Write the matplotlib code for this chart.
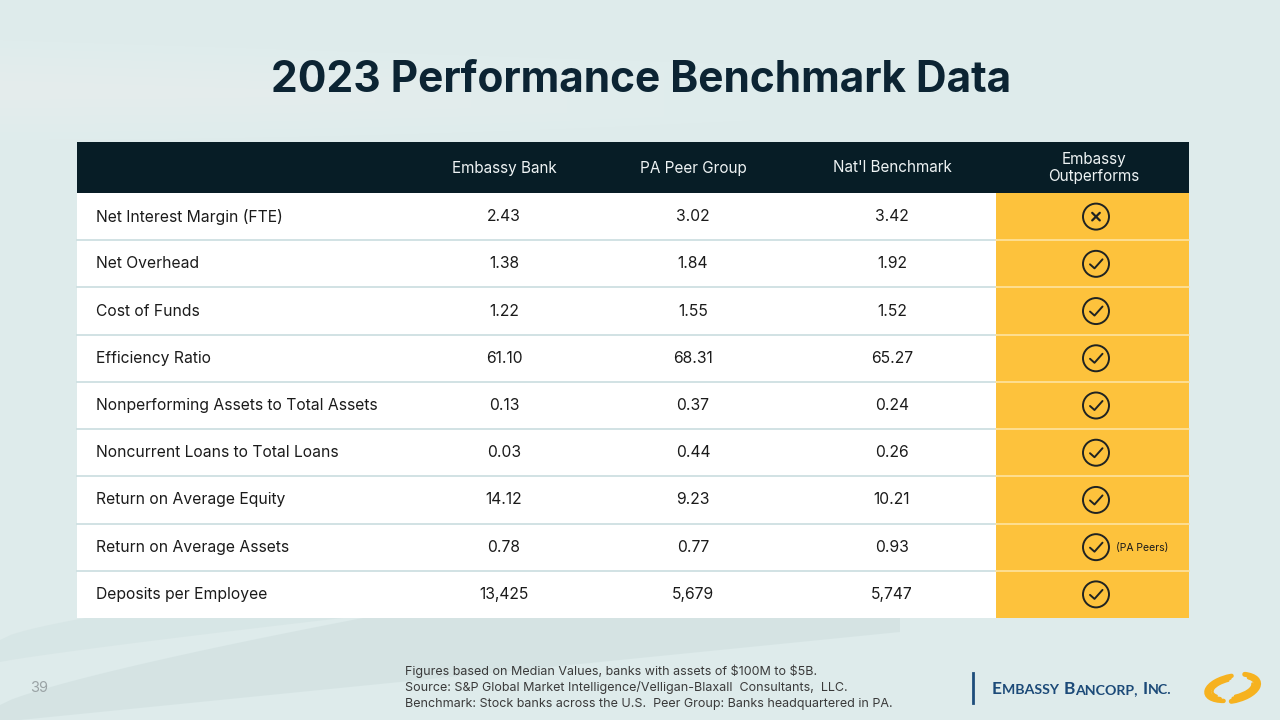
import matplotlib
matplotlib.use("Agg")
import matplotlib.pyplot as plt
from matplotlib.patches import Rectangle, Circle, Polygon, Arc
import numpy as np

# ---------------- data ----------------
title = "2023 Performance Benchmark Data"
columns = ["Embassy Bank", "PA Peer Group", "Nat'l Benchmark", "Embassy\nOutperforms"]
metrics = [
    "Net Interest Margin (FTE)",
    "Net Overhead",
    "Cost of Funds",
    "Efficiency Ratio",
    "Nonperforming Assets to Total Assets",
    "Noncurrent Loans to Total Loans",
    "Return on Average Equity",
    "Return on Average Assets",
    "Deposits per Employee",
]
embassy = [2.43, 1.38, 1.22, 61.10, 0.13, 0.03, 14.12, 0.78, 13425]
pa_peer = [3.02, 1.84, 1.55, 68.31, 0.37, 0.44, 9.23, 0.77, 5679]
natl = [3.42, 1.92, 1.52, 65.27, 0.24, 0.26, 10.21, 0.93, 5747]
value_fmt = ["{:.2f}"] * 8 + ["{:,.0f}"]
outperforms = [False, True, True, True, True, True, True, True, True]
notes = ["", "", "", "", "", "", "", "(PA Peers)", ""]
footnotes = [
    "Figures based on Median Values, banks with assets of $100M to $5B.",
    "Source: S&P Global Market Intelligence/Velligan-Blaxall  Consultants,  LLC.",
    "Benchmark: Stock banks across the U.S.  Peer Group: Banks headquartered in PA.",
]
page_number = "39"
company_parts = [("E", True), ("MBASSY ", False), ("B", True), ("ANCORP, ", False),
                 ("I", True), ("NC.", False)]

# ---------------- style ----------------
BG = "#deebeb"
NAVY = "#0c2433"
HEADER = "#071d26"
YELLOW = "#fdc23c"
SEP = "#cadddf"
TXT = "#1b1b1b"
FONT = ["Inter", "DejaVu Sans"]
plt.rcParams["font.family"] = FONT

fig = plt.figure(figsize=(12.8, 7.2), dpi=100)
fig.patch.set_facecolor(BG)
ax = fig.add_axes([0, 0, 1, 1])
ax.set_xlim(0, 1280)
ax.set_ylim(720, 0)
ax.axis("off")
ax.set_facecolor(BG)

# faint background swooshes (soft layered bands)
xs = np.linspace(0, 760, 80)
u = xs / 760
for k in range(6):
    top_band = 40 + 25 * u + k * 8
    bot_band = 140 - 20 * u ** 2 - k * 8
    ax.add_patch(Polygon(np.c_[np.r_[xs[: 80 - k * 10], xs[: 80 - k * 10][::-1]],
                               np.r_[top_band[: 80 - k * 10], bot_band[: 80 - k * 10][::-1]]],
                         closed=True, color="#ecf4f4", alpha=0.12, lw=0, zorder=0))
xs = np.linspace(0, 900, 80)
u = xs / 900
upper = 705 - 180 * u ** 0.8
lower = 722 - 90 * u
ax.add_patch(Polygon(np.c_[np.r_[xs, xs[::-1]], np.r_[upper, lower[::-1]]],
                     closed=True, color="#d3e2e2", alpha=0.8, lw=0, zorder=0))
upper2 = 640 - 115 * u ** 0.7
lower2 = 662 - 105 * u ** 0.9
ax.add_patch(Polygon(np.c_[np.r_[xs, xs[::-1]], np.r_[upper2, lower2[::-1]]],
                     closed=True, color="#d5e4e4", alpha=0.7, lw=0, zorder=0))

# ---------------- title ----------------
tt = ax.text(641, 80, title, ha="center", va="center", fontsize=34,
             fontweight="bold", color=NAVY, zorder=5)
fig.canvas.draw()
renderer = fig.canvas.get_renderer()
w = tt.get_window_extent(renderer).width
tt.set_fontsize(34 * 742 / w)

# ---------------- table ----------------
L, R = 77, 1189
split = 996
head_top, head_bot = 142, 193
row_h = (618 - 193) / len(metrics)
col_x = [504, 693, 892, 1094]

ax.add_patch(Rectangle((L, head_top), R - L, head_bot - head_top, color=HEADER, lw=0, zorder=2))
for cx, name in zip(col_x, columns):
    ax.text(cx, (head_top + head_bot) / 2 + 0.5, name, ha="center", va="center",
            fontsize=11, color="#eef3f4", linespacing=1.15, zorder=5)

cols_data = [embassy, pa_peer, natl]
for i, m in enumerate(metrics):
    top = head_bot + i * row_h
    cy = top + row_h / 2
    ax.add_patch(Rectangle((L, top), split - L, row_h, color="white", lw=0, zorder=2))
    ax.add_patch(Rectangle((split, top), R - split, row_h, color=YELLOW, lw=0, zorder=2))
    if i > 0:
        ax.plot([L, split], [top, top], color=SEP, lw=1.2, zorder=3)
        ax.plot([split, R], [top, top], color="#fde3a0", lw=1.2, zorder=3)
    ax.text(96, cy, m, ha="left", va="center", fontsize=11.3, color=TXT, zorder=5)
    for cx, data in zip(col_x[:3], cols_data):
        ax.text(cx, cy, value_fmt[i].format(data[i]), ha="center", va="center",
                fontsize=11.3, color=TXT, zorder=5)
    # icon
    ix = col_x[3] + 2
    ax.add_patch(Circle((ix, cy), 13, fill=False, ec="#1f2322", lw=1.4, zorder=5))
    if outperforms[i]:
        ax.plot([ix - 6, ix - 1.5, ix + 6.5], [cy + 0.5, cy + 4.5, cy - 4.5],
                color="#1f2322", lw=1.4, solid_capstyle="round",
                solid_joinstyle="round", zorder=6)
    else:
        d = 3.8
        ax.plot([ix - d, ix + d], [cy - d, cy + d], color="#1f2322", lw=1.6,
                solid_capstyle="round", zorder=6)
        ax.plot([ix - d, ix + d], [cy + d, cy - d], color="#1f2322", lw=1.6,
                solid_capstyle="round", zorder=6)
    if notes[i]:
        ax.text(ix + 20, cy + 0.5, notes[i], ha="left", va="center", fontsize=7.5,
                color=TXT, zorder=6)

# ---------------- footer ----------------
for k, line in enumerate(footnotes):
    ax.text(405, 671 + k * 16.5, line, ha="left", va="center", fontsize=9,
            color="#3a3a3a", zorder=5, parse_math=False)
ax.text(30, 688, page_number, ha="left", va="center", fontsize=10.5,
        color="#9aa3a5", zorder=5)

# logo
ax.plot([973, 973], [673, 703], color="#1e4d7b", lw=2, zorder=5)
x_cursor = 992
for txt, big in company_parts:
    piece = ax.text(x_cursor, 694, txt, ha="left", va="baseline",
                    fontsize=12.5 if big else 10.2, fontweight="bold",
                    color="#1c4a78", zorder=5, family=["Lato", "DejaVu Sans"])
    ext = piece.get_window_extent(renderer)
    x_cursor += ext.width * 1.02
# swoosh (brush-like ellipse ring with two gaps)
cx0, cy0 = 1232, 688
for (w_, h_, a0, a1, lw_) in [
        (52, 24, 135, 280, 3.2), (46, 20, 150, 270, 2.6), (40, 16, 165, 255, 1.8),
        (54, 26, -35, 105, 3.6), (48, 21, -20, 95, 2.8), (42, 17, 0, 80, 2.0)]:
    ax.add_patch(Arc((cx0, cy0), w_, h_, angle=-12, theta1=a0, theta2=a1,
                     color="#f6b21f", lw=lw_, zorder=5, capstyle="round"))

fig.savefig("out.png", dpi=100, facecolor=BG)
